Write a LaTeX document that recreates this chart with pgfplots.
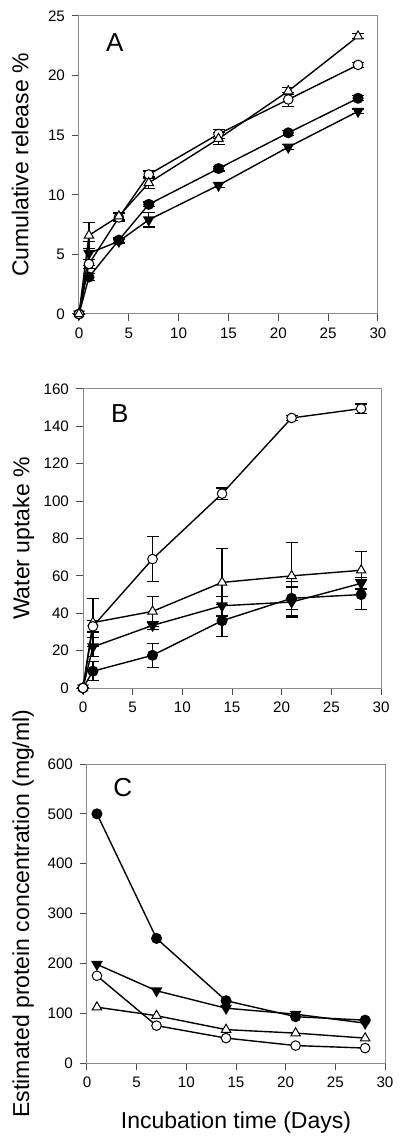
\documentclass[border=0pt]{standalone}
\usepackage{fontspec}
\setmainfont{Liberation Sans}
\usepackage{pgfplots}
\pgfplotsset{compat=1.18}
\usepackage{pgfplotstable}

% Panel A: x y err
\pgfplotstableread{
x y e
0 0 0
1 6.6 1.1
4 8.2 0.3
7 11.0 0.5
14 14.7 0.5
21 18.7 0.3
28 23.3 0.2
}\AOT
\pgfplotstableread{
x y e
0 0 0
1 4.2 0.4
4 8.1 0.3
7 11.7 0.3
14 15.1 0.4
21 18.0 0.6
28 20.9 0.2
}\AOC
\pgfplotstableread{
x y e
0 0 0
1 3.1 0.3
4 6.2 0.2
7 9.2 0.2
14 12.2 0.2
21 15.2 0.2
28 18.1 0.2
}\AFC
\pgfplotstableread{
x y e
0 0 0
1 5.1 1.0
4 6.1 0.2
7 7.9 0.6
14 10.8 0.2
21 14.0 0.2
28 17.0 0.2
}\ADT
% Panel B
\pgfplotstableread{
x y e
0 0 0
1 33 3
7 69 12
14 104 3
21 144.5 1.5
28 149.5 2.5
}\BOC
\pgfplotstableread{
x y e
0 0 0
1 35 13
7 41 8
14 56.5 18
21 60 18
28 63 10
}\BOT
\pgfplotstableread{
x y e
0 0 0
1 22 5
7 33.5 2
14 44 5
21 46 8
28 56 3
}\BDT
\pgfplotstableread{
x y e
0 0 0
1 9 5
7 17.5 6.5
14 36 8.5
21 48 9
28 50 8
}\BFC
% Panel C
\pgfplotstableread{
x y
1 500
7 250
14 125
21 93
28 86
}\CFC
\pgfplotstableread{
x y
1 198
7 145
14 110
21 98
28 80
}\CDT
\pgfplotstableread{
x y
1 175
7 75
14 50
21 35
28 30
}\COC
\pgfplotstableread{
x y
1 112
7 95
14 67
21 60
28 50
}\COT

\pgfplotsset{
  myaxis/.style={
    scale only axis, width=149pt, height=149.5pt,
    xmin=0, xmax=30, xtick={0,5,...,30},
    axis line style={black!45, line width=0.5pt},
    tick style={black!70, line width=0.5pt},
    tick align=outside, tick pos=left, major tick length=3.5pt,
    ticklabel style={font=\fontsize{7.6}{9}\selectfont},
    /pgf/number format/assume math mode=true,
    label style={font=\fontsize{11.5}{13}\selectfont},
    clip=false,
  },
  ln/.style={black, line width=0.7pt},
  fc/.style={ln, mark=*, mark size=2.4pt, mark options={fill=black, draw=black}},
  oc/.style={ln, mark=*, mark size=2.4pt, mark options={fill=white, draw=black, line width=0.5pt}},
  ot/.style={ln, mark=triangle*, mark size=2.7pt, mark options={fill=white, draw=black, line width=0.5pt}},
  dt/.style={ln, mark=triangle*, mark size=2.7pt, mark options={fill=black, draw=black, rotate=180}},
  eb/.style={error bars/.cd, y dir=both, y explicit,
     error bar style={line width=0.6pt, black},
     error mark options={rotate=90, mark size=3pt, line width=0.6pt, black}},
}
\tikzset{lett/.style={font=\fontsize{13}{15}\selectfont}}

\begin{document}
\begin{tikzpicture}
\useasboundingbox (0,0) rectangle (200pt,-571.5pt);

% ---------- A ----------
\begin{axis}[myaxis, at={(39.5pt,-157pt)}, anchor=south west,
  width=149.5pt, height=149pt,
  ymin=0, ymax=25, ytick={0,5,...,25},
  ylabel={Cumulative release \%},
  ylabel style={at={(axis description cs:-0.197,0.5)}, anchor=center}]
\addplot[fc, eb] table[x=x, y=y, y error=e] {\AFC};
\addplot[dt, eb] table[x=x, y=y, y error=e] {\ADT};
\addplot[oc, eb] table[x=x, y=y, y error=e] {\AOC};
\addplot[ot, eb] table[x=x, y=y, y error=e] {\AOT};
\node[lett] at (axis cs:3.6,22.8) {A};
\end{axis}

% ---------- B ----------
\begin{axis}[myaxis, at={(41.5pt,-344pt)}, anchor=south west,
  ymin=0, ymax=160, ytick={0,20,...,160},
  ylabel={Water uptake \%},
  ylabel style={at={(axis description cs:-0.2,0.5)}, anchor=center}]
\addplot[fc, eb] table[x=x, y=y, y error=e] {\BFC};
\addplot[dt, eb] table[x=x, y=y, y error=e] {\BDT};
\addplot[ot, eb] table[x=x, y=y, y error=e] {\BOT};
\addplot[oc, eb] table[x=x, y=y, y error=e] {\BOC};
\node[lett] at (axis cs:3.7,147) {B};
\end{axis}

% ---------- C ----------
\begin{axis}[myaxis, at={(43.5pt,-531.5pt)}, anchor=south west,
  ymin=0, ymax=600, ytick={0,100,...,600},
  ylabel={Estimated protein concentration (mg/ml)},
  ylabel style={at={(axis description cs:-0.214,0.5)}, anchor=center},
  xlabel={Incubation time (Days)},
  xlabel style={at={(axis description cs:0.5,-0.2)}, anchor=center}]
\addplot[fc] table[x=x, y=y] {\CFC};
\addplot[dt] table[x=x, y=y] {\CDT};
\addplot[ot] table[x=x, y=y] {\COT};
\addplot[oc] table[x=x, y=y] {\COC};
\node[lett] at (axis cs:3.6,552) {C};
\end{axis}
\end{tikzpicture}
\end{document}
